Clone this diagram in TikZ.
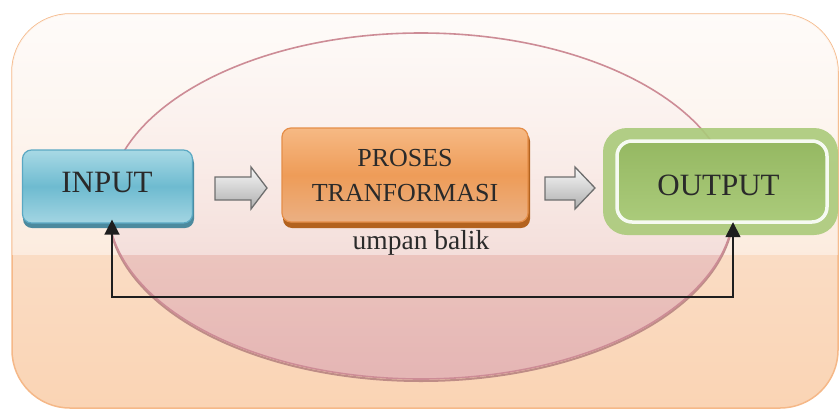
\documentclass[tikz,border=0pt]{standalone}
\usepackage{fontspec}
\setmainfont{Liberation Serif}
\usetikzlibrary{shapes.geometric,fadings,arrows.meta}

\definecolor{txt}{HTML}{2A2A2A}
\definecolor{outtop}{HTML}{FBE9DD}
\definecolor{outbot}{HTML}{FAD4B4}
\definecolor{outline}{HTML}{F5B888}
\definecolor{ellfill}{HTML}{D49CB4}
\definecolor{elldraw}{HTML}{CD8C96}
\definecolor{ellshadow}{HTML}{B07A7A}
\definecolor{intop}{HTML}{A8D9E5}
\definecolor{inmid}{HTML}{6EBBD0}
\definecolor{inbot}{HTML}{A3D5E2}
\definecolor{indraw}{HTML}{5AA8C3}
\definecolor{inshadow}{HTML}{4C8A9E}
\definecolor{prtop}{HTML}{F6B984}
\definecolor{prmid}{HTML}{EE9C58}
\definecolor{prbot}{HTML}{EBB083}
\definecolor{prdraw}{HTML}{E58E48}
\definecolor{prshadow}{HTML}{B3621E}
\definecolor{ring}{HTML}{AACA7A}
\definecolor{gntop}{HTML}{95B862}
\definecolor{gnbot}{HTML}{ABCB7B}
\definecolor{arrtop}{HTML}{F8F8F8}
\definecolor{arrbot}{HTML}{AEAEAE}
\definecolor{arrdraw}{HTML}{6E6E6E}
\definecolor{fbline}{HTML}{1E1E1E}

\tikzfading[name=ellfade, top color=transparent!97, bottom color=transparent!45]
\tikzfading[name=glossfade, top color=transparent!15, bottom color=transparent!55]

\tikzset{
  frame/.style={rectangle, rounded corners=58pt, minimum width=826pt, minimum height=394pt,
    top color=outtop, bottom color=outbot, draw=outline, line width=1.5pt, inner sep=0pt},
  bigell/.style={ellipse, minimum width=626pt, minimum height=346pt, inner sep=0pt},
  shadowbox/.style={rectangle, rounded corners=9pt, inner sep=0pt},
  inbox/.style={shadowbox, top color=intop, bottom color=inbot, middle color=inmid, draw=indraw, line width=1.2pt},
  prbox/.style={shadowbox, top color=prtop, bottom color=prbot, middle color=prmid, draw=prdraw, line width=1.2pt},
  ringbox/.style={rectangle, rounded corners=24pt, inner sep=0pt, fill=ring, fill opacity=0.9},
  gnbox/.style={rectangle, rounded corners=15pt, inner sep=0pt, top color=gntop, bottom color=gnbot, draw=white!90!ring, line width=3.5pt},
  lbl/.style={text=txt, inner sep=0pt, align=center},
  blockarrow/.style={top color=arrtop, bottom color=arrbot, draw=arrdraw, line width=1.3pt, line join=miter},
  feedback/.style={draw=fbline, line width=1.5pt, {Triangle[length=15pt,width=15pt]}-{Triangle[length=15pt,width=15pt]}},
}

\begin{document}
\begin{tikzpicture}[x=1pt,y=1pt]
\useasboundingbox (0,0) rectangle (840,-410);

% outer rounded frame
\node[frame] (frame) at (425,-211) {};

% big ellipse fill
\fill[ellfill, path fading=ellfade] (421,-206) ellipse [x radius=313, y radius=173];

% gloss on upper part
\begin{scope}
  \clip[rounded corners=58pt] (12,-14) rectangle (838,-408);
  \fill[white, path fading=glossfade] (0,0) rectangle (840,-255);
\end{scope}

% big ellipse outline with shadow
\begin{scope}
  \clip (0,-206) rectangle (840,-410);
  \node[bigell, draw=ellshadow, line width=2pt, yshift=-2pt, opacity=0.8] (ellshade) at (421,-206) {};
\end{scope}
\node[bigell, draw=elldraw, line width=1.6pt] (ell) at (421,-206) {};

% INPUT
\fill[inshadow, rounded corners=9pt] (23,-154) rectangle (194,-228);
\node[inbox, minimum width=170pt, minimum height=73pt] (input) at (107.5,-186.5) {};
\node[lbl, font=\fontsize{31}{34}\selectfont] (inputtxt) at (107,-182) {INPUT};

% PROSES
\fill[prshadow, rounded corners=9pt] (283,-132) rectangle (530,-228);
\node[prbox, minimum width=246pt, minimum height=94pt] (proses) at (405,-175) {};
\node[lbl, font=\fontsize{26}{35}\selectfont] (prosestxt) at (405,-176) {PROSES\\TRANFORMASI};

% OUTPUT
\node[ringbox, minimum width=235pt, minimum height=107pt] (output) at (720.5,-181.5) {};
\node[gnbox, minimum width=210pt, minimum height=81pt] (outinner) at (722,-181.5) {};
\node[lbl, font=\fontsize{31}{34}\selectfont] (outputtxt) at (718.5,-185) {OUTPUT};

% block arrows
\path[blockarrow] (215,-177) -- (251,-177) -- (251,-167) -- (267,-188) -- (251,-209) -- (251,-200) -- (215,-200) -- cycle;
\path[blockarrow] (545,-177) -- (575,-177) -- (575,-167) -- (595,-188) -- (575,-209) -- (575,-200) -- (545,-200) -- cycle;

% feedback label
\node[lbl, font=\fontsize{27.5}{30}\selectfont] (umpan) at (421,-243) {umpan balik};

% feedback connector
\coordinate (fbl) at (112,-297);
\coordinate (fbr) at (733,-297);
\draw[feedback] ([xshift=4.5pt, yshift=4pt]input.south) |- (fbl) -- (fbr) -| ([xshift=12.5pt, yshift=13pt]output.south);
\end{tikzpicture}
\end{document}
